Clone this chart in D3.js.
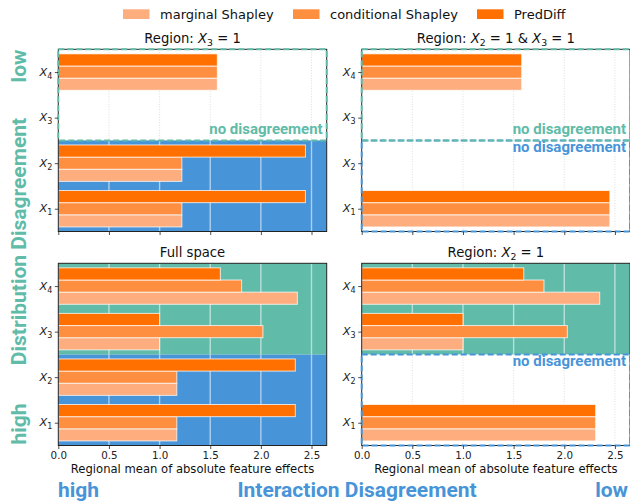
<!DOCTYPE html>
<html><head><meta charset="utf-8">
<script src="https://cdn.jsdelivr.net/npm/d3@7"></script>
<style>body{margin:0;background:#fff}svg{display:block}</style>
</head><body>
<script>
// Feature order bottom-to-top: X1, X2, X3, X4
const featureSubs = ["1", "2", "3", "4"];
const methods = ["marginal Shapley", "conditional Shapley", "PredDiff"];
const methodColors = ["#fdad7e", "#ff8f40", "#ff7000"];
const xTicks = [0, 0.5, 1.0, 1.5, 2.0, 2.5];
const xMax = 2.65;

// Region: X3 = 1
const marginalX3 = [1.22, 1.22, 0, 1.57];
const conditionalX3 = [1.22, 1.22, 0, 1.57];
const predDiffX3 = [2.44, 2.44, 0, 1.57];
// Region: X2 = 1 & X3 = 1
const marginalX2X3 = [2.45, 0, 0, 1.58];
const conditionalX2X3 = [2.45, 0, 0, 1.58];
const predDiffX2X3 = [2.45, 0, 0, 1.58];
// Full space
const marginalFull = [1.17, 1.17, 1.00, 2.36];
const conditionalFull = [1.17, 1.17, 2.02, 1.81];
const predDiffFull = [2.34, 2.34, 1.00, 1.60];
// Region: X2 = 1
const marginalX2 = [2.31, 0, 1.00, 2.35];
const conditionalX2 = [2.31, 0, 2.03, 1.80];
const predDiffX2 = [2.31, 0, 1.00, 1.60];

const TEAL = "#60bba8", BLUE = "#4894d8";
const MPL = "'DejaVu Sans', sans-serif";
const BIG = "Roboto, 'Open Sans', sans-serif";

const svg = d3.select("body").append("svg").attr("width", 630).attr("height", 503);

const W = 268.4, H = 182.2;
const panels = [
  { x0: 58.3, y0: 49.3, title: [["Region: "], ["X", "it"], ["3", "sub"], [" = 1"]],
    series: [marginalX3, conditionalX3, predDiffX3], xlabels: false,
    top: { kind: "dash", color: TEAL, note: "above" }, bottom: { kind: "fill", color: BLUE } },
  { x0: 361.7, y0: 49.3, title: [["Region: "], ["X", "it"], ["2", "sub"], [" = 1 & "], ["X", "it"], ["3", "sub"], [" = 1"]],
    series: [marginalX2X3, conditionalX2X3, predDiffX2X3], xlabels: false,
    top: { kind: "dash", color: TEAL, note: "above" }, bottom: { kind: "dash", color: BLUE, note: "below" } },
  { x0: 58.3, y0: 263.3, title: [["Full space"]],
    series: [marginalFull, conditionalFull, predDiffFull], xlabels: true,
    top: { kind: "fill", color: TEAL }, bottom: { kind: "fill", color: BLUE } },
  { x0: 361.7, y0: 263.3, title: [["Region: "], ["X", "it"], ["2", "sub"], [" = 1"]],
    series: [marginalX2, conditionalX2, predDiffX2], xlabels: true,
    top: { kind: "fill", color: TEAL }, bottom: { kind: "dash", color: BLUE, note: "below" } }
];

panels.forEach(p => {
  const g = svg.append("g").attr("transform", `translate(${p.x0},${p.y0})`);
  const x = d3.scaleLinear().domain([0, xMax]).range([0, W]);
  const y = d3.scaleLinear().domain([-0.5, 3.5]).range([H, 0]);

  const halves = [
    { spec: p.bottom, lo: -0.5, hi: 1.5 },
    { spec: p.top, lo: 1.5, hi: 3.5 }
  ];

  // region backgrounds and grid
  halves.forEach(hv => {
    const ya = y(hv.hi), yb = y(hv.lo);
    if (hv.spec.kind === "fill") {
      g.append("rect").attr("x", 0).attr("y", ya).attr("width", W).attr("height", yb - ya)
        .attr("fill", hv.spec.color);
      g.selectAll(null).data(xTicks.slice(1)).join("line")
        .attr("x1", d => x(d)).attr("x2", d => x(d)).attr("y1", ya).attr("y2", yb)
        .attr("stroke", "rgba(255,255,255,0.55)").attr("stroke-width", 1.4);
    } else {
      g.selectAll(null).data(xTicks.slice(1)).join("line")
        .attr("x1", d => x(d)).attr("x2", d => x(d)).attr("y1", ya).attr("y2", yb)
        .attr("stroke", "#d6d6d6").attr("stroke-width", 0.8).attr("stroke-dasharray", "1,1.6");
    }
  });

  // bars: marginal at the bottom, PredDiff on top of each group
  const bh = 0.8 / 3;
  p.series.forEach((vals, m) => {
    const off = (m - 1) * bh;
    g.selectAll(null).data(vals.map((v, i) => ({ v, i }))).join("rect")
      .filter(d => d.v > 0)
      .attr("x", x(0))
      .attr("y", d => y(d.i + off + bh / 2))
      .attr("width", d => x(d.v) - x(0))
      .attr("height", d => y(d.i + off - bh / 2) - y(d.i + off + bh / 2))
      .attr("fill", methodColors[m])
      .attr("stroke", "rgba(255,255,255,0.75)").attr("stroke-width", 1);
  });

  // frame
  g.append("rect").attr("x", 0).attr("y", 0).attr("width", W).attr("height", H)
    .attr("fill", "none").attr("stroke", "#222").attr("stroke-width", 1);

  // dashed outlines for regions without disagreement (blue first, teal on top)
  halves.filter(h => h.spec.kind === "dash").sort((a, b) => (a.spec.color === TEAL) - (b.spec.color === TEAL))
    .forEach(hv => {
      const ya = y(hv.hi), yb = y(hv.lo);
      g.append("rect").attr("x", 0).attr("y", ya).attr("width", W).attr("height", yb - ya)
        .attr("fill", "none").attr("stroke", hv.spec.color).attr("stroke-width", 2)
        .attr("stroke-dasharray", "6,3");
    });
  halves.filter(h => h.spec.kind === "dash").forEach(hv => {
    const yl = y(1.5);
    g.append("text").attr("x", W - 4)
      .attr("y", hv.spec.note === "above" ? yl - 6.5 : yl + 12)
      .attr("text-anchor", "end").attr("font-family", BIG).attr("font-weight", 700)
      .attr("font-size", 15).attr("fill", hv.spec.color).text("no disagreement");
  });

  // x axis
  const xa = g.append("g").attr("transform", `translate(0,${H})`)
    .call(d3.axisBottom(x).tickValues(xTicks).tickSize(3.5).tickPadding(3)
      .tickFormat(p.xlabels ? d3.format(".1f") : ""));
  xa.select(".domain").remove();
  xa.selectAll("line").attr("stroke", "#222").attr("stroke-width", 0.8);
  xa.selectAll("text").attr("font-family", MPL).attr("font-size", 10.3).attr("fill", "#222");

  // y axis with X_i labels
  const ya = g.append("g").call(d3.axisLeft(y).tickValues([0, 1, 2, 3]).tickSize(3.5).tickFormat(""));
  ya.select(".domain").remove();
  ya.selectAll("line").attr("stroke", "#222").attr("stroke-width", 0.8);
  [0, 1, 2, 3].forEach(i => {
    const t = g.append("text").attr("x", -6).attr("y", y(i) + 3.5)
      .attr("text-anchor", "end").attr("font-family", MPL).attr("font-size", 11.3).attr("fill", "#222");
    t.append("tspan").attr("font-style", "italic").text("X");
    t.append("tspan").attr("font-size", 8).attr("dy", 3).text(featureSubs[i]);
  });

  // title
  const tt = g.append("text").attr("x", W / 2).attr("y", -6.5).attr("text-anchor", "middle")
    .attr("font-family", MPL).attr("font-size", 13.2).attr("fill", "#111");
  p.title.forEach(([t, style], k) => {
    const ts = tt.append("tspan").text(t);
    if (style === "it") ts.attr("font-style", "italic");
    if (style === "sub") ts.attr("font-size", 9.3).attr("dy", 3);
    else if (k > 0 && p.title[k - 1][1] === "sub") ts.attr("dy", -3);
  });

  if (p.xlabels) {
    g.append("text").attr("x", W / 2).attr("y", H + 27.5).attr("text-anchor", "middle")
      .attr("font-family", MPL).attr("font-size", 11.6).attr("fill", "#111")
      .text("Regional mean of absolute feature effects");
  }
});

// legend
const legendX = [123, 293, 477];
methods.forEach((m, k) => {
  svg.append("rect").attr("x", legendX[k]).attr("y", 9.3).attr("width", 26.5).attr("height", 9.7)
    .attr("fill", methodColors[k]);
  svg.append("text").attr("x", legendX[k] + 37).attr("y", 19).attr("font-family", MPL)
    .attr("font-size", 13).attr("fill", "#111").text(m);
});

// outer axis labels
const big = (sel) => sel.attr("font-family", BIG).attr("font-weight", 700).attr("font-size", 21);
big(svg.append("text")).attr("transform", "translate(25.5,241.5) rotate(-90)")
  .attr("text-anchor", "middle").attr("fill", TEAL).text("Distribution Disagreement");
big(svg.append("text")).attr("transform", "translate(25.5,66) rotate(-90)")
  .attr("text-anchor", "middle").attr("fill", TEAL).text("low");
big(svg.append("text")).attr("transform", "translate(25.5,424) rotate(-90)")
  .attr("text-anchor", "middle").attr("fill", TEAL).text("high");
big(svg.append("text")).attr("x", 58).attr("y", 497).attr("fill", BLUE).text("high");
big(svg.append("text")).attr("x", 357).attr("y", 497).attr("text-anchor", "middle")
  .attr("fill", BLUE).text("Interaction Disagreement");
big(svg.append("text")).attr("x", 628).attr("y", 497).attr("text-anchor", "end")
  .attr("fill", BLUE).text("low");
</script>
</body></html>
